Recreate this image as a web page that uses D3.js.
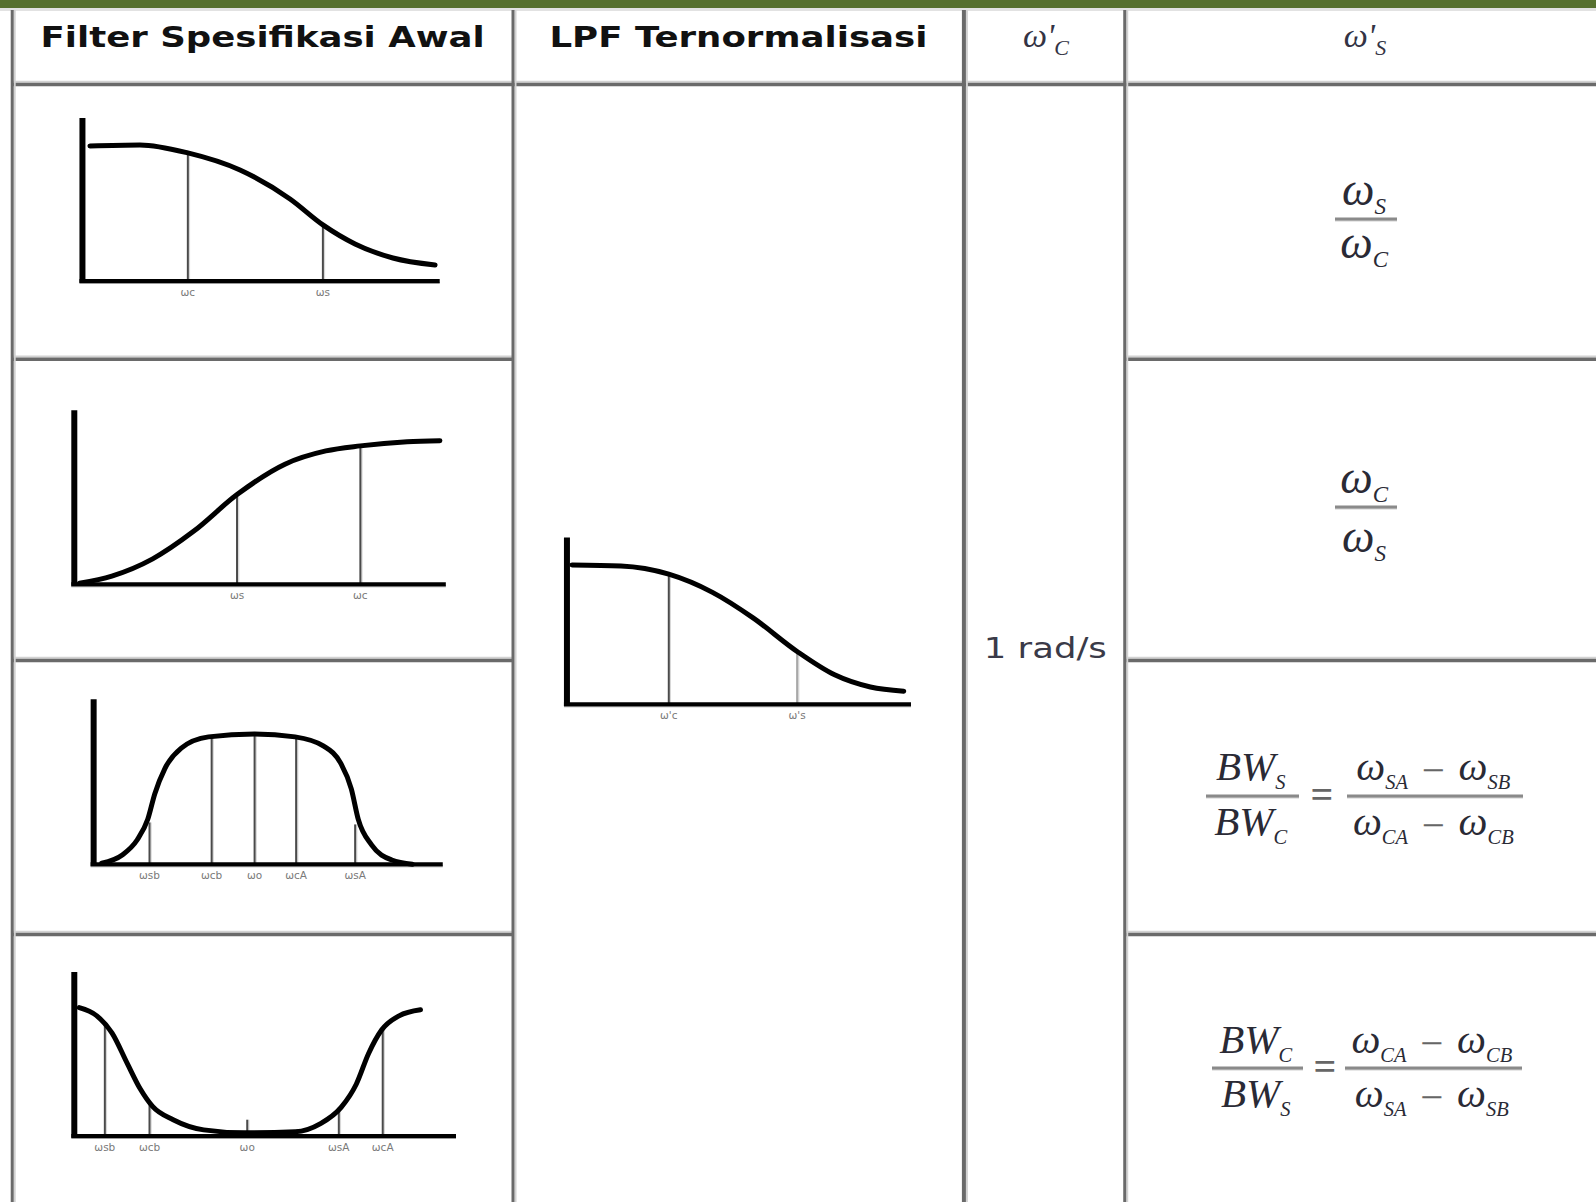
<!DOCTYPE html>
<html><head><meta charset="utf-8">
<script src="https://cdn.jsdelivr.net/npm/d3@7"></script>
<style>html,body{margin:0;padding:0;background:#fff;overflow:hidden}</style>
</head><body><svg id="c" width="1596" height="1202"></svg>
<script>
// ---------- DATA ----------
const headerTitles = ["Filter Spesifikasi Awal", "LPF Ternormalisasi"];
const cutoffValue = "1 rad/s";
// curve points in chart units (x: 0-100 along axis, y: 0-100 up the axis)
const lpfCurve = [[2.1,82.9],[16.1,83.5],[29.5,78.6],[44.1,68.1],[58.1,50.3],[67.3,34.4],[76.3,22.7],[86.9,14.1],[98.7,9.8]];
const lpfMarkers = [{x:29.5,y:78.6,label:"ωc"},{x:67.3,y:34.4,label:"ωs"}];
const hpfCurve = [[1.4,0.6],[10.1,4.7],[21.1,14.6],[32.1,30.4],[43.8,51.5],[56.7,69.0],[67.7,76.6],[77.0,79.5],[89.6,81.9],[98.4,82.5]];
const hpfMarkers = [{x:43.8,y:51.5,label:"ωs"},{x:77.0,y:79.5,label:"ωc"}];
const bpfCurve = [[2.3,0.6],[8.2,5.6],[12.5,14.8],[15.5,27.2],[17.5,42.6],[20.4,58.0],[25.1,70.4],[32.9,77.2],[46.1,79.0],[57.7,77.2],[65.9,71.6],[70.8,61.1],[73.8,45.7],[75.8,27.2],[79.6,11.7],[85.4,2.5],[91.3,0]];
const bpfMarkers = [{x:16.0,y:25.3,label:"ωsb"},{x:33.8,y:77.0,label:"ωcb"},{x:46.1,y:79.0,label:"ωo"},{x:58.0,y:77.0,label:"ωcA"},{x:74.9,y:24.1,label:"ωsA"}];
const bsfCurve = [[1.3,78.3],[5.9,73.3],[9.9,62.7],[13.9,44.1],[17.3,28.6],[20.5,18.0],[25.9,9.9],[33.9,3.7],[44.5,1.9],[57.9,2.5],[64.5,7.5],[69.9,17.4],[73.9,31.7],[77.1,50.3],[80.5,64.6],[85.1,73.3],[90.7,77.0]];
const bsfMarkers = [{x:8.0,y:68.9,label:"ωsb"},{x:19.7,y:19.3,label:"ωcb"},{x:45.3,y:9.9,label:"ωo"},{x:69.3,y:17.4,label:"ωsA"},{x:80.8,y:65.8,label:"ωcA"}];
const normCurve = [[1.5,83.5],[15.7,82.9],[29.6,78.0],[42.3,67.1],[54.1,51.8],[66.9,31.7],[77.8,17.7],[88.2,10.4],[97.9,7.9]];
const normMarkers = [{x:29.6,y:78.0,label:"ω'c",light:false},{x:66.9,y:31.7,label:"ω's",light:true}];

// ---------- LAYOUT ----------
const K = 1596/1568;
const svg = d3.select("#c");
const DARK = "#6a6a6a", LIGHT = "#d2d2d2";

svg.append("rect").attr("x",0).attr("y",0).attr("width",1596).attr("height",8).attr("fill","#56702f");
svg.append("rect").attr("x",0).attr("y",8).attr("width",1596).attr("height",3).attr("fill","#e2e2e2");

const colX = [12,504,947,1105].map(v=>v*K);
const headY = 83*K;
const rowY = [353,649,918].map(v=>v*K);

function vline(x, y1, y2, w){
  svg.append("line").attr("x1",x+w/2+1).attr("x2",x+w/2+1).attr("y1",y1).attr("y2",y2).attr("stroke",LIGHT).attr("stroke-width",2);
  svg.append("line").attr("x1",x).attr("x2",x).attr("y1",y1).attr("y2",y2).attr("stroke",DARK).attr("stroke-width",w);
}
function hline(y, x1, x2, w){
  svg.append("line").attr("x1",x1).attr("x2",x2).attr("y1",y-w/2-1).attr("y2",y-w/2-1).attr("stroke",LIGHT).attr("stroke-width",2);
  svg.append("line").attr("x1",x1).attr("x2",x2).attr("y1",y).attr("y2",y).attr("stroke",DARK).attr("stroke-width",w);
}
hline(headY, colX[0], 1596, 3.5);
rowY.forEach(y=>{ hline(y, colX[0], colX[1], 3.5); hline(y, colX[3], 1596, 3.5); });
vline(colX[0], 10, 1202, 3);
vline(colX[1], 10, 1202, 3);
vline(colX[2], 10, 1202, 4);
vline(colX[3], 10, 1202, 3);

// ---------- HEADERS ----------
svg.append("text").attr("x",(colX[0]+colX[1])/2).attr("y",47).attr("text-anchor","middle")
  .attr("font-family","DejaVu Sans").attr("font-weight","bold").attr("font-size",29)
  .attr("textLength",444).attr("lengthAdjust","spacingAndGlyphs").attr("fill","#111").text(headerTitles[0]);
svg.append("text").attr("x",(colX[1]+colX[2])/2).attr("y",47).attr("text-anchor","middle")
  .attr("font-family","DejaVu Sans").attr("font-weight","bold").attr("font-size",29)
  .attr("textLength",378).attr("lengthAdjust","spacingAndGlyphs").attr("fill","#111").text(headerTitles[1]);

const serif = "Liberation Serif";
function omegaHead(cx, sub){
  const t = svg.append("text").attr("x",cx).attr("y",47).attr("text-anchor","middle")
    .attr("font-family",serif).attr("font-style","italic").attr("font-size",34).attr("fill","#334");
  t.append("tspan").text("ω'");
  t.append("tspan").attr("font-size",22).attr("dy",8).text(sub);
}
omegaHead(1046, "C");
omegaHead(1365, "S");

svg.append("text").attr("x",(colX[2]+colX[3])/2+1).attr("y",658).attr("text-anchor","middle")
  .attr("font-family","DejaVu Sans").attr("font-size",28).attr("textLength",123).attr("lengthAdjust","spacingAndGlyphs")
  .attr("fill","#3a3a48").text(cutoffValue);

// ---------- MINI CHARTS ----------
function miniChart(box, curve, markers){
  const x = d3.scaleLinear().domain([0,100]).range([box.x0*K, box.x1*K]);
  const y = d3.scaleLinear().domain([0,100]).range([box.y0*K, box.y1*K]);
  const g = svg.append("g");
  markers.forEach(m=>{
    g.append("line").attr("x1",x(m.x)+1.5).attr("x2",x(m.x)+1.5).attr("y1",y(0)).attr("y2",y(m.y)).attr("stroke","#d8d8d8").attr("stroke-width",1.5);
    g.append("line").attr("x1",x(m.x)).attr("x2",x(m.x)).attr("y1",y(0)).attr("y2",y(m.y)).attr("stroke",m.light?"#a8a8a8":"#4a4a4a").attr("stroke-width",2);
    g.append("text").attr("x",x(m.x)).attr("y",y(0)+15).attr("text-anchor","middle")
      .attr("font-family","DejaVu Sans").attr("font-size",10.5).attr("fill","#7a7a7a").text(m.label);
  });
  g.append("line").attr("x1",x(0)).attr("x2",x(0)).attr("y1",y(0)+2).attr("y2",y(100)).attr("stroke","#000").attr("stroke-width",6);
  g.append("line").attr("x1",x(0)-3).attr("x2",x(100)).attr("y1",y(0)+2).attr("y2",y(0)+2).attr("stroke","#9a9a9a").attr("stroke-width",2);
  g.append("line").attr("x1",x(0)-3).attr("x2",x(100)).attr("y1",y(0)).attr("y2",y(0)).attr("stroke","#000").attr("stroke-width",4);
  const line = d3.line().x(d=>x(d[0])).y(d=>y(d[1])).curve(d3.curveMonotoneX);
  g.append("path").attr("d",line(curve)).attr("fill","none").attr("stroke","#000").attr("stroke-width",5).attr("stroke-linecap","round");
}
miniChart({x0:81,x1:432,y0:276,y1:116}, lpfCurve, lpfMarkers);
miniChart({x0:73,x1:438,y0:574,y1:403}, hpfCurve, hpfMarkers);
miniChart({x0:92,x1:435,y0:849,y1:687}, bpfCurve, bpfMarkers);
miniChart({x0:73,x1:448,y0:1116,y1:955}, bsfCurve, bsfMarkers);
miniChart({x0:557,x1:895,y0:692,y1:528}, normCurve, normMarkers);

// ---------- FORMULAS ----------
const FC = "#2a2a35";
function term(parent, x, y, parts, size, anchor){
  const t = parent.append("text").attr("x",x).attr("y",y).attr("text-anchor",anchor||"middle")
    .attr("font-family",serif).attr("font-style","italic").attr("font-size",size).attr("fill",FC);
  parts.forEach(p=>{
    if(p.sub){ t.append("tspan").attr("font-size",size*0.5).attr("dy",9).text(p.sub); t.append("tspan").attr("dy",-9).text("\u200A"); }
    else if(p.up){ t.append("tspan").attr("font-style","normal").attr("dy",4).attr("fill","#666").text(p.t); t.append("tspan").attr("dy",-4).text("\u200A"); }
    else t.append("tspan").text(p.t);
  });
  return t;
}
function bar(x1,x2,y){
  svg.append("line").attr("x1",x1).attr("x2",x2).attr("y1",y+1.5).attr("y2",y+1.5).attr("stroke","#cfcfcf").attr("stroke-width",2);
  svg.append("line").attr("x1",x1).attr("x2",x2).attr("y1",y).attr("y2",y).attr("stroke","#8a8a8a").attr("stroke-width",3);
}
const fractions = [
  {num:[{t:"ω"},{sub:"S"}], den:[{t:"ω"},{sub:"C"}], nb:205, bar:219, db:258},
  {num:[{t:"ω"},{sub:"C"}], den:[{t:"ω"},{sub:"S"}], nb:493, bar:507, db:552}
];
fractions.forEach(f=>{
  bar(1335,1397,f.bar);
  term(svg,1366,f.nb,f.num,46);
  term(svg,1366,f.db,f.den,46);
});
const bwRows = [
  {ln:[{t:"BW"},{sub:"S"}], ld:[{t:"BW"},{sub:"C"}],
   rn:[{t:"ω"},{sub:"SA"},{t:" − ",up:true},{t:"ω"},{sub:"SB"}], rd:[{t:"ω"},{sub:"CA"},{t:" − ",up:true},{t:"ω"},{sub:"CB"}],
   nb:780, bar:796, db:835, lb:[1206,1299], rb:[1347,1523], eq:1322},
  {ln:[{t:"BW"},{sub:"C"}], ld:[{t:"BW"},{sub:"S"}],
   rn:[{t:"ω"},{sub:"CA"},{t:" − ",up:true},{t:"ω"},{sub:"CB"}], rd:[{t:"ω"},{sub:"SA"},{t:" − ",up:true},{t:"ω"},{sub:"SB"}],
   nb:1053, bar:1068, db:1107, lb:[1212,1303], rb:[1345,1522], eq:1325}
];
bwRows.forEach(r=>{
  bar(r.lb[0],r.lb[1],r.bar); bar(r.rb[0],r.rb[1],r.bar);
  term(svg,(r.lb[0]+r.lb[1])/2,r.nb,r.ln,41);
  term(svg,(r.lb[0]+r.lb[1])/2,r.db,r.ld,41);
  term(svg,(r.rb[0]+r.rb[1])/2,r.nb,r.rn,41);
  term(svg,(r.rb[0]+r.rb[1])/2,r.db,r.rd,41);
  svg.append("text").attr("x",r.eq).attr("y",r.bar+12).attr("text-anchor","middle")
    .attr("font-family",serif).attr("font-size",40).attr("font-weight","bold").attr("fill","#666").text("=");
});
</script></body></html>
